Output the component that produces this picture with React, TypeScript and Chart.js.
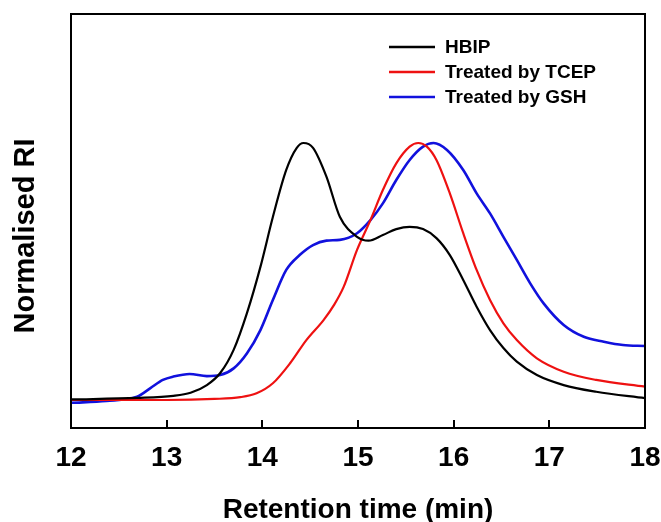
import React, { useEffect, useRef } from "react";
import { Chart, registerables } from "chart.js";

Chart.register(...registerables);

const xTicks = [12, 13, 14, 15, 16, 17, 18];

const seriesLabels = ["HBIP", "Treated by TCEP", "Treated by GSH"];
const seriesColors = ["#000000", "#ee1111", "#1111dd"];
const yTitle = "Normalised RI";
const xTitle = "Retention time (min)";

const hbipX = [12.0, 12.69, 13.07, 13.25, 13.42, 13.56, 13.7, 13.84, 13.98, 14.11, 14.25, 14.36, 14.43, 14.53, 14.67, 14.81, 14.99, 15.11, 15.26, 15.4, 15.54, 15.68, 15.82, 15.96, 16.1, 16.24, 16.38, 16.52, 16.66, 16.87, 17.15, 17.49, 18.0];
const hbipY = [0.002, 0.008, 0.016, 0.028, 0.058, 0.105, 0.195, 0.339, 0.518, 0.712, 0.895, 0.981, 1.0, 0.981, 0.869, 0.713, 0.635, 0.62, 0.642, 0.665, 0.674, 0.665, 0.63, 0.564, 0.467, 0.363, 0.272, 0.202, 0.149, 0.097, 0.058, 0.032, 0.007];

const tcepX = [12.0, 13.0, 13.5, 13.77, 13.94, 14.11, 14.29, 14.46, 14.64, 14.75, 14.85, 14.99, 15.13, 15.26, 15.4, 15.54, 15.63, 15.72, 15.82, 15.96, 16.1, 16.24, 16.38, 16.52, 16.66, 16.87, 17.15, 17.49, 18.0];
const tcepY = [0.0, 0.0, 0.004, 0.011, 0.026, 0.065, 0.143, 0.233, 0.311, 0.37, 0.44, 0.584, 0.7, 0.817, 0.921, 0.986, 1.0, 0.986, 0.934, 0.804, 0.649, 0.506, 0.389, 0.298, 0.233, 0.162, 0.11, 0.078, 0.052];

const gshX = [12.0, 12.37, 12.69, 12.83, 12.96, 13.07, 13.24, 13.42, 13.56, 13.7, 13.84, 13.98, 14.11, 14.25, 14.39, 14.53, 14.67, 14.81, 14.99, 15.13, 15.26, 15.4, 15.54, 15.68, 15.79, 15.93, 16.1, 16.24, 16.38, 16.52, 16.66, 16.8, 16.94, 17.15, 17.36, 17.57, 17.77, 18.0];
const gshY = [-0.011, -0.004, 0.013, 0.046, 0.078, 0.091, 0.101, 0.093, 0.097, 0.123, 0.182, 0.272, 0.389, 0.506, 0.564, 0.603, 0.62, 0.623, 0.649, 0.7, 0.765, 0.856, 0.934, 0.986, 1.0, 0.973, 0.895, 0.804, 0.726, 0.635, 0.545, 0.454, 0.376, 0.292, 0.246, 0.227, 0.214, 0.21];

const FONT = "Arial, 'Liberation Sans', sans-serif";

const toPoints = (xs: number[], ys: number[]) => xs.map((x, i) => ({ x, y: ys[i] }));

const framePlugin = {
  id: "frameAndLegend",
  afterDatasetsDraw(chart: any) {
    const { ctx, chartArea } = chart;
    const xScale = chart.scales.x;
    ctx.save();
    ctx.strokeStyle = "#000";
    ctx.lineWidth = 2;
    ctx.strokeRect(chartArea.left, chartArea.top, chartArea.right - chartArea.left, chartArea.bottom - chartArea.top);
    ctx.beginPath();
    xTicks.forEach((v) => {
      const px = Math.round(xScale.getPixelForValue(v));
      ctx.moveTo(px, chartArea.bottom);
      ctx.lineTo(px, chartArea.bottom - 8);
    });
    ctx.stroke();

    // y-axis title
    ctx.save();
    ctx.translate(26, 236);
    ctx.rotate(-Math.PI / 2);
    ctx.font = `bold 29px ${FONT}`;
    ctx.textAlign = "center";
    ctx.textBaseline = "middle";
    ctx.fillStyle = "#000";
    ctx.fillText(yTitle, 0, 0);
    ctx.restore();

    // legend
    const lx0 = 389;
    const lx1 = 435;
    const tx = 445;
    const rows = [47, 72, 97];
    ctx.font = `bold 19px ${FONT}`;
    ctx.textBaseline = "middle";
    ctx.textAlign = "left";
    chart.data.datasets.forEach((ds: any, i: number) => {
      const y = rows[i];
      ctx.strokeStyle = ds.borderColor;
      ctx.lineWidth = 2.5;
      ctx.beginPath();
      ctx.moveTo(lx0, y);
      ctx.lineTo(lx1, y);
      ctx.stroke();
      ctx.fillStyle = "#000";
      ctx.fillText(ds.label, tx, y + 1);
    });
    ctx.restore();
  },
};

export default function App() {
  const ref = useRef<HTMLCanvasElement | null>(null);

  useEffect(() => {
    document.body.style.margin = "0";
    const canvas = ref.current;
    if (!canvas) return;
    const xsList = [hbipX, tcepX, gshX];
    const ysList = [hbipY, tcepY, gshY];
    const widths = [2.2, 2.2, 2.6];
    const chart = new Chart(canvas, {
      type: "scatter",
      data: {
        datasets: seriesLabels.map((label, i) => ({
          label,
          data: toPoints(xsList[i], ysList[i]),
          showLine: true,
          borderColor: seriesColors[i],
          backgroundColor: seriesColors[i],
          borderWidth: widths[i],
          pointRadius: 0,
          cubicInterpolationMode: "monotone" as const,
        })),
      },
      options: {
        animation: false,
        responsive: false,
        devicePixelRatio: 1,
        layout: { padding: { top: 14, right: 16, left: 0, bottom: 0 } },
        plugins: {
          legend: { display: false },
          tooltip: { enabled: false },
        },
        scales: {
          x: {
            type: "linear",
            min: 12,
            max: 18,
            afterBuildTicks: (scale: any) => {
              scale.ticks = xTicks.map((v) => ({ value: v }));
            },
            afterFit: (scale: any) => {
              scale.height = 94;
              scale.paddingLeft = 0;
              scale.paddingRight = 0;
            },
            grid: { display: false, drawTicks: false },
            border: { display: false },
            ticks: {
              color: "#000",
              padding: 13,
              maxRotation: 0,
              font: { family: FONT, size: 28, weight: "bold" },
            },
            title: {
              display: true,
              text: xTitle,
              color: "#000",
              padding: { top: 0, bottom: 0 },
              font: { family: FONT, size: 28, weight: "bold", lineHeight: 0.85 },
            },
          },
          y: {
            type: "linear",
            min: -0.109,
            max: 1.502,
            afterFit: (scale: any) => {
              scale.width = 71;
              scale.paddingTop = 0;
              scale.paddingBottom = 0;
            },
            grid: { display: false, drawTicks: false },
            border: { display: false },
            ticks: { display: false },
            title: { display: false },
          },
        },
      },
      plugins: [framePlugin],
    });
    return () => chart.destroy();
  }, []);

  return <canvas ref={ref} width={661} height={522} style={{ display: "block" }} />;
}
